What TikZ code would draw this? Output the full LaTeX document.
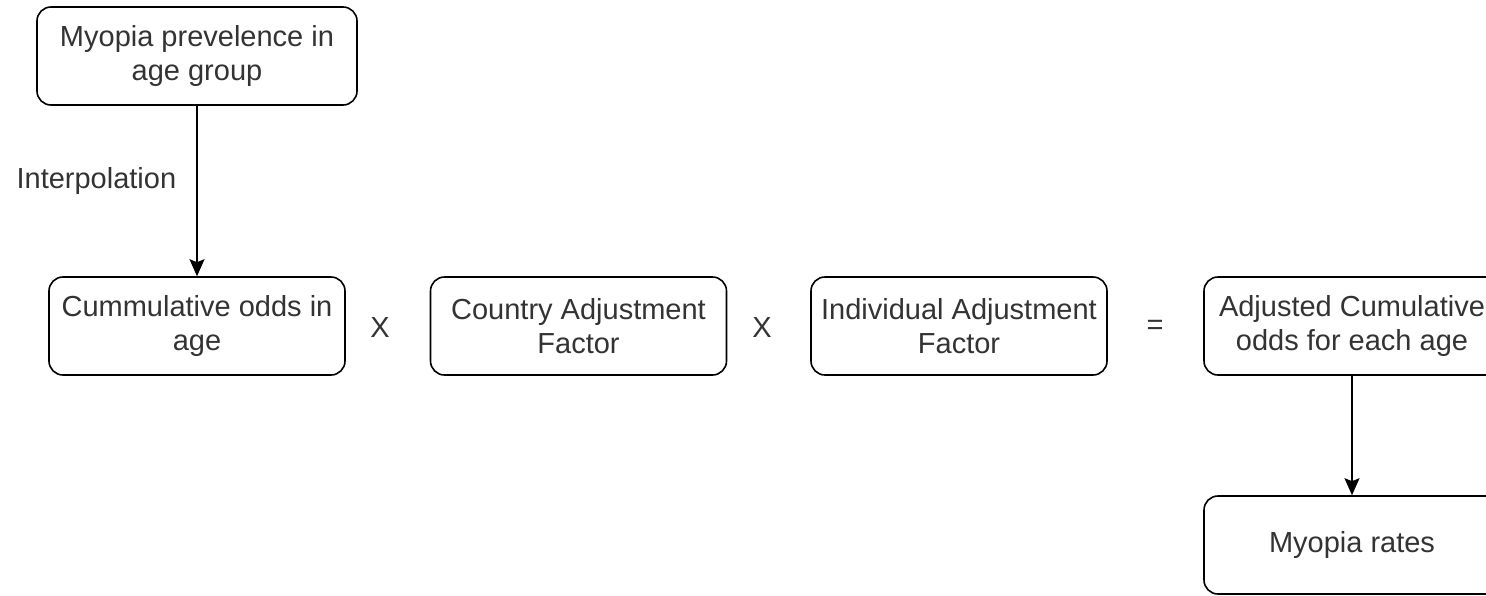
\documentclass[tikz,border=0pt]{standalone}
\usepackage{fontspec}
\setmainfont{Liberation Sans}
\usetikzlibrary{arrows.meta}
\definecolor{txt}{HTML}{333333}
\tikzset{
  box/.style={draw=black, line width=1.6pt, rounded corners=14pt, minimum width=296pt, minimum height=98pt,
    align=center, text=txt, font=\fontsize{29}{34}\selectfont, inner sep=0pt},
  lbl/.style={text=txt, font=\fontsize{29}{34}\selectfont, inner sep=0pt},
  conn/.style={line width=1.6pt, -{Stealth[length=17pt,width=15pt,inset=3pt]}}
}
\begin{document}
\begin{tikzpicture}[x=1pt,y=-1pt]
\useasboundingbox (0,0) rectangle (1486,595);
\node[box, minimum width=320pt] (prev) at (197,56) {Myopia prevelence in\\age group};
\node[box] (cum) at (197,326) {Cummulative odds in\\age};
\node[box] (country) at (578.5,326) {Country Adjustment\\Factor};
\node[box] (indiv) at (959,326) {Individual Adjustment\\Factor};
\node[box] (adj) at (1352,326) {Adjusted Cumulative\\odds for each age};
\node[box] (rates) at (1352,545) {Myopia rates};
\node[lbl] (x1) at (380,328) {X};
\node[lbl] (x2) at (762,328) {X};
\node[lbl] (eq) at (1155,327) {=};
\draw[conn] (prev) -- (cum) node[pos=0.44, left=20pt, lbl] (interp) {Interpolation};
\draw[conn] (adj) -- (rates);
\end{tikzpicture}
\end{document}
